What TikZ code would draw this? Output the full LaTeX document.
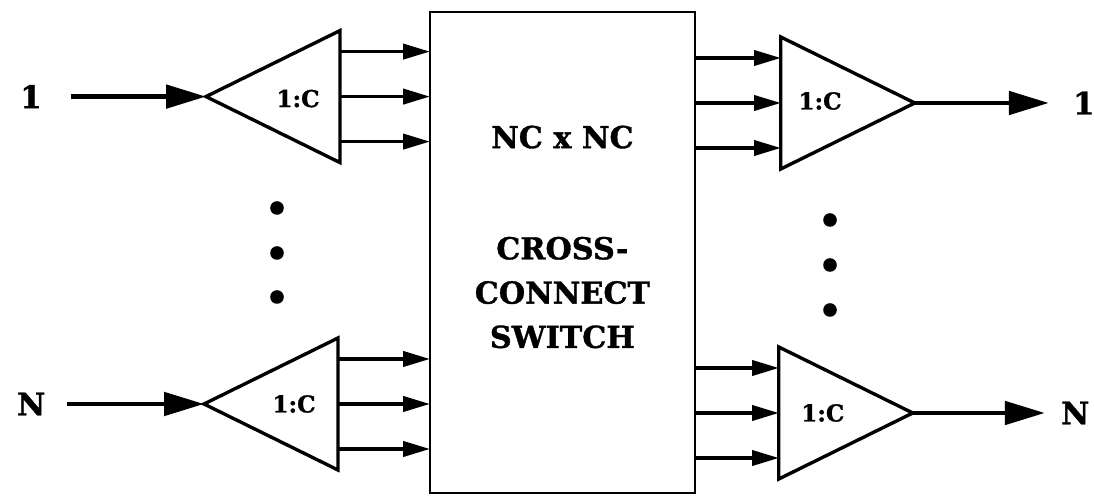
\documentclass[tikz,border=0pt]{standalone}
\usepackage{fontspec}
\setmainfont{DejaVu Serif}[BoldFeatures={FakeBold=1.2}]
\usetikzlibrary{arrows.meta, shapes.geometric, positioning, calc}

\begin{document}
\begin{tikzpicture}[
  switchbox/.style={draw, line width=1.9pt, minimum width=6.625cm,
                    minimum height=12.025cm, inner sep=0pt, outer sep=0pt},
  splitter/.style={draw, isosceles triangle, isosceles triangle stretches,
                   line width=2.4pt, minimum width=3.3cm, minimum height=3.35cm,
                   inner sep=0pt, outer sep=0pt},
  bigtxt/.style={font=\fontsize{21.5}{31.5}\selectfont\bfseries, align=center},
  ratio/.style={font=\fontsize{16.5}{18}\selectfont\bfseries},
  tag/.style={font=\fontsize{22}{24}\selectfont\bfseries, inner sep=0pt},
  feed/.style={-{Triangle[length=1cm, width=0.58cm]}, line width=3.2pt},
  fan/.style={-{Triangle[length=0.67cm, width=0.38cm]}, line width=2.4pt},
  dot/.style={fill=black},
]
\useasboundingbox (0,0) rectangle (27.35,12.475);

%% Switch
\node[switchbox] (sw) at (14.06,6.16) {};
\node[bigtxt] (dims) at ($(sw.north)+(0,-3.125)$) {NC x NC};
\node[bigtxt] (kind) at ($(sw.center)+(0,-1)$) {CROSS-\\CONNECT\\SWITCH};

%% Splitters (in) and combiners (out)
\node[splitter, shape border rotate=180, anchor=lower side] (tl) at (8.5,10.06) {};
\node[splitter, shape border rotate=180, anchor=lower side] (bl) at (8.45,2.375) {};
\node[splitter, anchor=lower side] (tr) at (19.52,9.9) {};
\node[splitter, anchor=lower side] (br) at (19.47,2.15) {};

\node[ratio] at ($(tl.lower side)+(-1.05,-0.05)$) {1:C};
\node[ratio] at ($(bl.lower side)+(-1.1,0)$) {1:C};
\node[ratio] at ($(tr.lower side)+(0.98,0.05)$) {1:C};
\node[ratio] at ($(br.lower side)+(1.1,0)$) {1:C};

%% Port labels
\node[tag, left=4.1cm of tl.apex]   (lin1) {1};
\node[tag, left=3.96cm of bl.apex]  (linN) {N};
\node[tag, right=3.95cm of tr.apex] (lout1) {1};
\node[tag, right=3.7cm of br.apex]  (loutN) {N};

%% Input / output lines
\draw[feed, shorten <=0.72cm] (lin1) -- (tl.apex);
\draw[feed, shorten <=0.53cm] (linN) -- (bl.apex);
\draw[feed, shorten >=0.6cm] (tr.apex) -- (lout1);
\draw[feed, shorten >=0.4cm] (br.apex) -- (loutN);

%% Fan-out into switch, fan-in out of switch
\foreach \dy in {1.125,0,-1.125} {
  \draw[fan] ($(tl.lower side)+(0,\dy)$) -- ($(tl.lower side -| sw.west)+(0,\dy)$);
  \draw[fan] ($(bl.lower side)+(0,\dy)$) -- ($(bl.lower side -| sw.west)+(0,\dy)$);
  \draw[fan] ($(tr.lower side -| sw.east)+(0,\dy)$) -- ($(tr.lower side)+(0,\dy)$);
  \draw[fan] ($(br.lower side -| sw.east)+(0,\dy)$) -- ($(br.lower side)+(0,\dy)$);
}

%% Dots
\foreach \y in {7.275,6.15,5.05} \fill[dot] (6.925,\y) circle (0.17);
\foreach \y in {6.975,5.85,4.725} \fill[dot] (20.75,\y) circle (0.17);

\end{tikzpicture}
\end{document}
